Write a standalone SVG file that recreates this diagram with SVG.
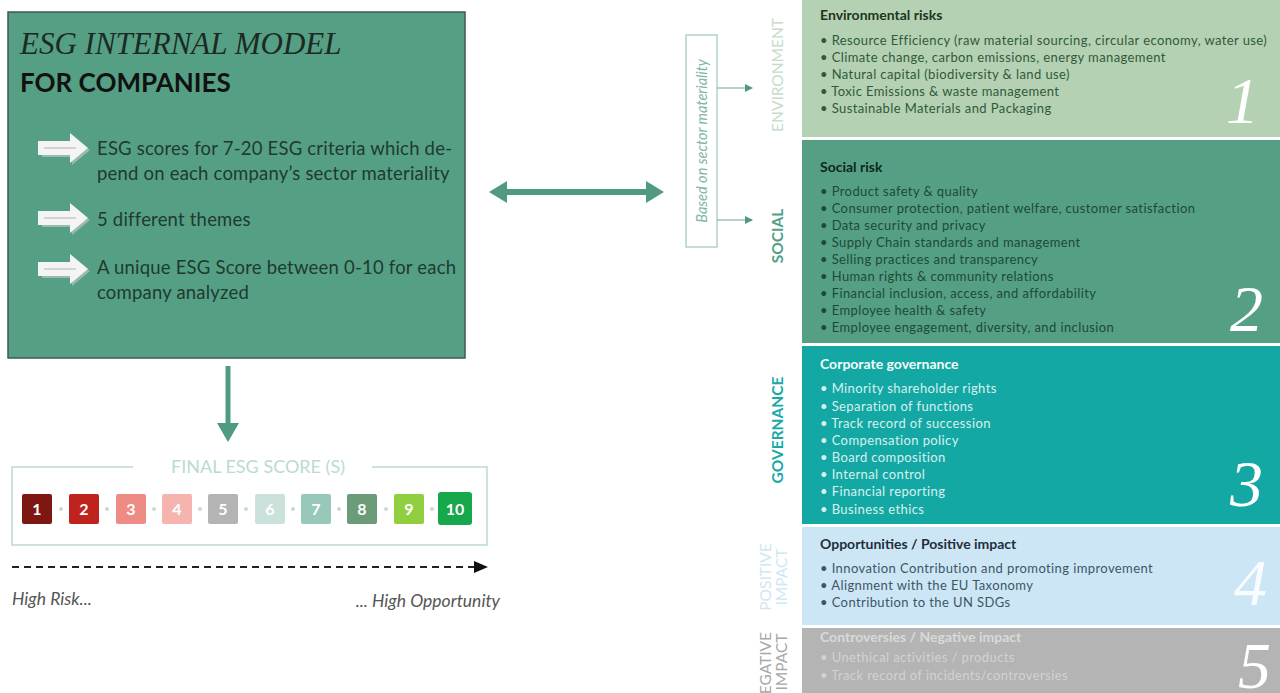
<svg xmlns="http://www.w3.org/2000/svg" width="1280" height="693" viewBox="0 0 1280 693">
<style>
.sans{font-family:Lato,"Open Sans","Liberation Sans",sans-serif}
.pt{font-family:Lato,"Liberation Sans",sans-serif;font-size:18.5px;letter-spacing:0.2px;fill:#1f3a30}
.h{font-family:Lato,"Liberation Sans",sans-serif;font-size:14px;font-weight:bold}
.b{font-family:Lato,"Liberation Sans",sans-serif;font-size:13px;letter-spacing:0.4px}
.num{font-family:"Liberation Serif",serif;font-style:italic;font-size:66px;fill:#ffffff}
.sq{font-family:Lato,"Liberation Sans",sans-serif;font-size:16px;font-weight:bold;fill:#ffffff;text-anchor:middle}
.vl{font-family:Lato,"Liberation Sans",sans-serif;font-size:15.5px;text-anchor:middle}
</style>
<defs>
<marker id="tri" markerWidth="8" markerHeight="8" refX="7" refY="4" orient="auto" markerUnits="userSpaceOnUse">
<path d="M0,0 L8,4 L0,8 Z" fill="#4f9a80"/>
</marker>
<g id="warrow">
<path d="M2,-7 L32,-7 L32,-15 L50,0 L32,15 L32,7 L2,7 Z" fill="#c9c9c9" transform="translate(2,2)" opacity="0.6"/>
<path d="M0,-7 L32,-7 L32,-15 L50,0 L32,15 L32,7 L0,7 Z" fill="#f4f4f4"/>
<line x1="6" y1="0" x2="38" y2="0" stroke="#c8c8c8" stroke-width="1.5"/>
</g>
</defs>
<rect width="1280" height="693" fill="#ffffff"/>

<g id="model">
<rect x="8" y="12" width="457" height="346" fill="#55a085" stroke="#3e5a50" stroke-width="1.5"/>
<text x="20" y="54" font-family="Liberation Serif,serif" font-style="italic" font-size="31" fill="#1c2a24">ESG INTERNAL MODEL</text>
<text x="20" y="92" class="sans" font-size="26" font-weight="bold" fill="#111">FOR COMPANIES</text>
<use href="#warrow" x="38" y="148"/>
<use href="#warrow" x="38" y="218"/>
<use href="#warrow" x="38" y="269"/>
<text class="pt" x="97" y="155">ESG scores for 7-20 ESG criteria which de-</text>
<text class="pt" x="97" y="180">pend on each company’s sector materiality</text>
<text class="pt" x="97" y="226">5 different themes</text>
<text class="pt" x="97" y="274">A unique ESG Score between 0-10  for each</text>
<text class="pt" x="97" y="299">company analyzed</text>
</g>

<g id="score">
<path d="M133,467 L12,467 L12,545 L487,545 L487,467 L372,467" fill="none" stroke="#b9dbd2" stroke-width="1.5"/>
<text x="258" y="473" class="sans" font-size="18" fill="#b9dbd2" text-anchor="middle">FINAL ESG SCORE (S)</text>
<g fill="#c8dcd6">
<circle cx="61" cy="509" r="2"/><circle cx="107" cy="509" r="2"/><circle cx="154" cy="509" r="2"/><circle cx="200" cy="509" r="2"/><circle cx="246" cy="509" r="2"/><circle cx="293" cy="509" r="2"/><circle cx="339" cy="509" r="2"/><circle cx="386" cy="509" r="2"/><circle cx="432" cy="509" r="2"/>
</g>
<rect x="22" y="494" width="30" height="30" rx="2" fill="#7d1712"/><text class="sq" x="37" y="515">1</text>
<rect x="69" y="494" width="30" height="30" rx="2" fill="#c0231d"/><text class="sq" x="84" y="515">2</text>
<rect x="116" y="494" width="30" height="30" rx="2" fill="#ef8b85"/><text class="sq" x="131" y="515">3</text>
<rect x="162" y="494" width="30" height="30" rx="2" fill="#f6b4af"/><text class="sq" x="177" y="515">4</text>
<rect x="208" y="494" width="30" height="30" rx="2" fill="#b4b4b4"/><text class="sq" x="223" y="515">5</text>
<rect x="255" y="494" width="30" height="30" rx="2" fill="#cae2db"/><text class="sq" x="270" y="515">6</text>
<rect x="301" y="494" width="30" height="30" rx="2" fill="#97c8ba"/><text class="sq" x="316" y="515">7</text>
<rect x="347" y="494" width="30" height="30" rx="2" fill="#6b9b78"/><text class="sq" x="362" y="515">8</text>
<rect x="394" y="494" width="30" height="30" rx="2" fill="#92cf40"/><text class="sq" x="409" y="515">9</text>
<rect x="438" y="492" width="34" height="33" rx="3" fill="#17a84b"/><text class="sq" x="455" y="515">10</text>
<text x="12" y="605" class="sans" font-size="17.5" font-style="italic" fill="#555">High Risk...</text>
<text x="500" y="607" class="sans" font-size="17.5" font-style="italic" fill="#555" text-anchor="end">... High Opportunity</text>
</g>

<g id="materiality">
<rect x="686" y="35" width="31" height="212" fill="#ffffff" stroke="#9cc8ba" stroke-width="1.2"/>
<text transform="translate(707,141) rotate(-90)" class="sans" font-size="14.5" font-style="italic" fill="#7fb6a3" text-anchor="middle">Based on sector materiality</text>
</g>

<g id="connectors">
<line x1="228" y1="366" x2="228" y2="425" stroke="#4f9a80" stroke-width="5"/>
<path d="M217,423 L239,423 L228,442 Z" fill="#4f9a80"/>
<line x1="505" y1="192" x2="648" y2="192" stroke="#4f9a80" stroke-width="6"/>
<path d="M489,192 L507,181 L507,203 Z" fill="#4f9a80"/>
<path d="M664,192 L646,181 L646,203 Z" fill="#4f9a80"/>
<line x1="717" y1="88" x2="752" y2="88" stroke="#6aa893" stroke-width="1.2" marker-end="url(#tri)"/>
<line x1="717" y1="220" x2="752" y2="220" stroke="#6aa893" stroke-width="1.2" marker-end="url(#tri)"/>
<line x1="12" y1="567" x2="475" y2="567" stroke="#222" stroke-width="2" stroke-dasharray="7,5"/>
<path d="M474,561 L488,567 L474,573 Z" fill="#111"/>
</g>

<g id="labels">
<text class="vl" transform="translate(783,75) rotate(-90)" fill="#c7dcc8">ENVIRONMENT</text>
<text class="vl" transform="translate(783,236) rotate(-90)" fill="#55a085" font-weight="bold">SOCIAL</text>
<text class="vl" transform="translate(783,430) rotate(-90)" fill="#1aa8a6" font-weight="bold">GOVERNANCE</text>
<text class="vl" transform="translate(771,577) rotate(-90)" fill="#cfe6f4">POSITIVE</text>
<text class="vl" transform="translate(787,577) rotate(-90)" fill="#cfe6f4">IMPACT</text>
<text class="vl" transform="translate(771,669) rotate(-90)" fill="#a8a8a8">NEGATIVE</text>
<text class="vl" transform="translate(787,662) rotate(-90)" fill="#a8a8a8">IMPACT</text>
</g>

<g id="environment">
<rect x="802" y="0" width="478" height="137" fill="#b5d1b3"/>
<text class="h" x="820" y="20" fill="#1e3424">Environmental risks</text>
<g class="b" fill="#2f5a3a">
<text x="820" y="45">• Resource Efficiency (raw material sourcing, circular economy, water use)</text>
<text x="820" y="62">• Climate change, carbon emissions, energy management</text>
<text x="820" y="79">• Natural capital (biodiversity &amp; land use)</text>
<text x="820" y="96">• Toxic Emissions &amp; waste management</text>
<text x="820" y="113">• Sustainable Materials and Packaging</text>
</g>
<text class="num" x="1226" y="123">1</text>
</g>

<g id="social">
<rect x="802" y="140" width="478" height="203" fill="#55a085"/>
<text class="h" x="820" y="172" fill="#10261c">Social risk</text>
<g class="b" fill="#1d4a36">
<text x="820" y="196">• Product safety &amp; quality</text>
<text x="820" y="213">• Consumer protection, patient welfare, customer satisfaction</text>
<text x="820" y="230">• Data security and privacy</text>
<text x="820" y="247">• Supply Chain standards and management</text>
<text x="820" y="264">• Selling practices and transparency</text>
<text x="820" y="281">• Human rights &amp; community relations</text>
<text x="820" y="298">• Financial inclusion, access, and affordability</text>
<text x="820" y="315">• Employee health &amp; safety</text>
<text x="820" y="332">• Employee engagement, diversity, and inclusion</text>
</g>
<text class="num" x="1230" y="331">2</text>
</g>

<g id="governance">
<rect x="802" y="346" width="478" height="178" fill="#14a8a5"/>
<text class="h" x="820" y="369" fill="#f2fbfa">Corporate governance</text>
<g class="b" fill="#d7f0ee">
<text x="820" y="393">• Minority shareholder rights</text>
<text x="820" y="411">• Separation of functions</text>
<text x="820" y="428">• Track record of succession</text>
<text x="820" y="445">• Compensation policy</text>
<text x="820" y="462">• Board composition</text>
<text x="820" y="479">• Internal control</text>
<text x="820" y="496">• Financial reporting</text>
<text x="820" y="514">• Business ethics</text>
</g>
<text class="num" x="1230" y="506">3</text>
</g>

<g id="positive">
<rect x="802" y="527" width="478" height="98" fill="#cde6f6"/>
<text class="h" x="820" y="549" fill="#1f2e3a">Opportunities / Positive impact</text>
<g class="b" fill="#3d5566">
<text x="820" y="573">• Innovation Contribution and promoting improvement</text>
<text x="820" y="590">• Alignment with the EU Taxonomy</text>
<text x="820" y="607">• Contribution to the UN SDGs</text>
</g>
<text class="num" x="1234" y="605" fill-opacity="0.85">4</text>
</g>

<g id="negative">
<rect x="802" y="628" width="478" height="65" fill="#b4b4b4"/>
<text class="h" x="820" y="642" fill="#d9d9d9">Controversies / Negative impact</text>
<g class="b" fill="#d2d2d2">
<text x="820" y="662">• Unethical activities / products</text>
<text x="820" y="680">• Track record of incidents/controversies</text>
</g>
<text class="num" x="1238" y="688">5</text>
</g>
</svg>
